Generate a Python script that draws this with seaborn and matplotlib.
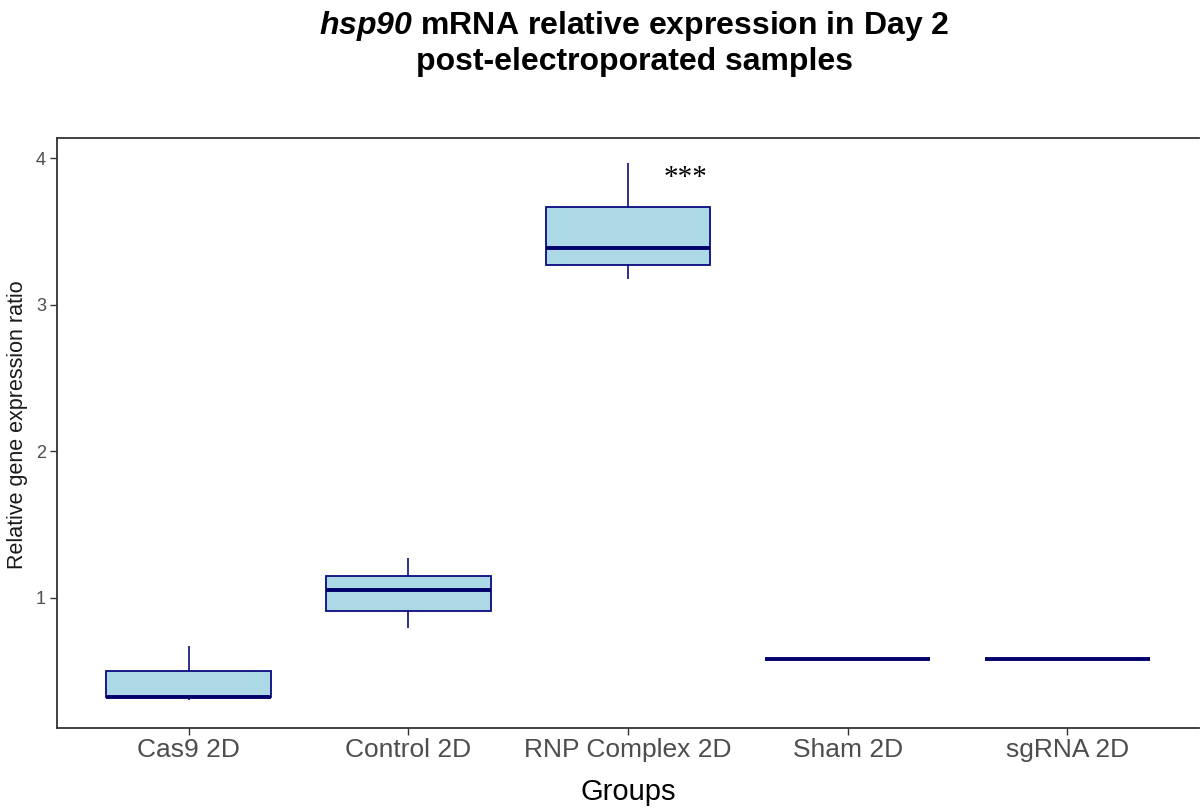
import matplotlib
matplotlib.use("Agg")
import numpy as np
import pandas as pd
import matplotlib.pyplot as plt
import seaborn as sns

# values
groups = ["Cas9 2D", "Control 2D", "RNP Complex 2D", "Sham 2D", "sgRNA 2D"]
cas9_2d = [0.30, 0.32, 0.325, 0.50, 0.67]
control_2d = [0.79, 0.91, 1.05, 1.15, 1.27]
rnp_2d = [3.18, 3.27, 3.39, 3.67, 3.97]
sham_2d = [0.58, 0.58, 0.58]
sgrna_2d = [0.58, 0.58, 0.58]
yticks = [1, 2, 3, 4]
signif = "***"

values = [cas9_2d, control_2d, rnp_2d, sham_2d, sgrna_2d]
df = pd.DataFrame({
    "Groups": np.concatenate([[g] * len(v) for g, v in zip(groups, values)]),
    "Ratio": np.concatenate(values),
})

sns.set_style("ticks")
plt.rcParams['font.family'] = ['Liberation Sans', 'DejaVu Sans']
# italic bold gene name inside the bold title
plt.rcParams['mathtext.fontset'] = 'custom'
plt.rcParams['mathtext.it'] = 'Liberation Sans:italic:bold'
plt.rcParams['mathtext.rm'] = 'Liberation Sans:italic:bold'

fig = plt.figure(figsize=(12, 8.11), dpi=100)
ax = fig.add_axes([57 / 1200, 1 - 728 / 811, 1142 / 1200, 590 / 811])

navy = "#0a0a80"
sns.boxplot(data=df, x="Groups", y="Ratio", order=groups, width=0.75,
            color="#ADD8E6", saturation=1, linecolor=navy, linewidth=1.3,
            showcaps=False,
            medianprops=dict(color="#00006b", linewidth=2.8),
            whiskerprops=dict(color=navy, linewidth=1.2),
            ax=ax)

ax.set_xlim(-0.6, 4.6)
ax.set_ylim(0.11, 4.14)
ax.set_yticks(yticks)
ax.text(2.26, 3.87, signif, family="Liberation Serif", fontsize=21,
        ha="center", va="center", color="black")

for side in ["left", "bottom", "top"]:
    ax.spines[side].set_color("#333333")
    ax.spines[side].set_linewidth(1.3)
ax.spines["right"].set_visible(False)
ax.tick_params(axis="x", colors="#333333", labelcolor="#4d4d4d",
               labelsize=19, length=5, width=1, pad=2)
ax.tick_params(axis="y", colors="#333333", labelcolor="#4d4d4d",
               labelsize=13, length=5, width=1, pad=3)
ax.set_xlabel("Groups", fontsize=21, color="black", labelpad=12)
ax.set_ylabel("Relative gene expression ratio", fontsize=15.5, color="#1a1a1a")
ax.yaxis.set_label_coords(-0.025, 0.514)

fig.text(634 / 1200, 1 - 9 / 811,
         "$\\mathit{hsp90}$ mRNA relative expression in Day 2\n"
         "post-electroporated samples",
         fontsize=23, fontweight="bold", ha="center", va="top",
         linespacing=1.17, color="black")

fig.savefig("out.png", dpi=100)
